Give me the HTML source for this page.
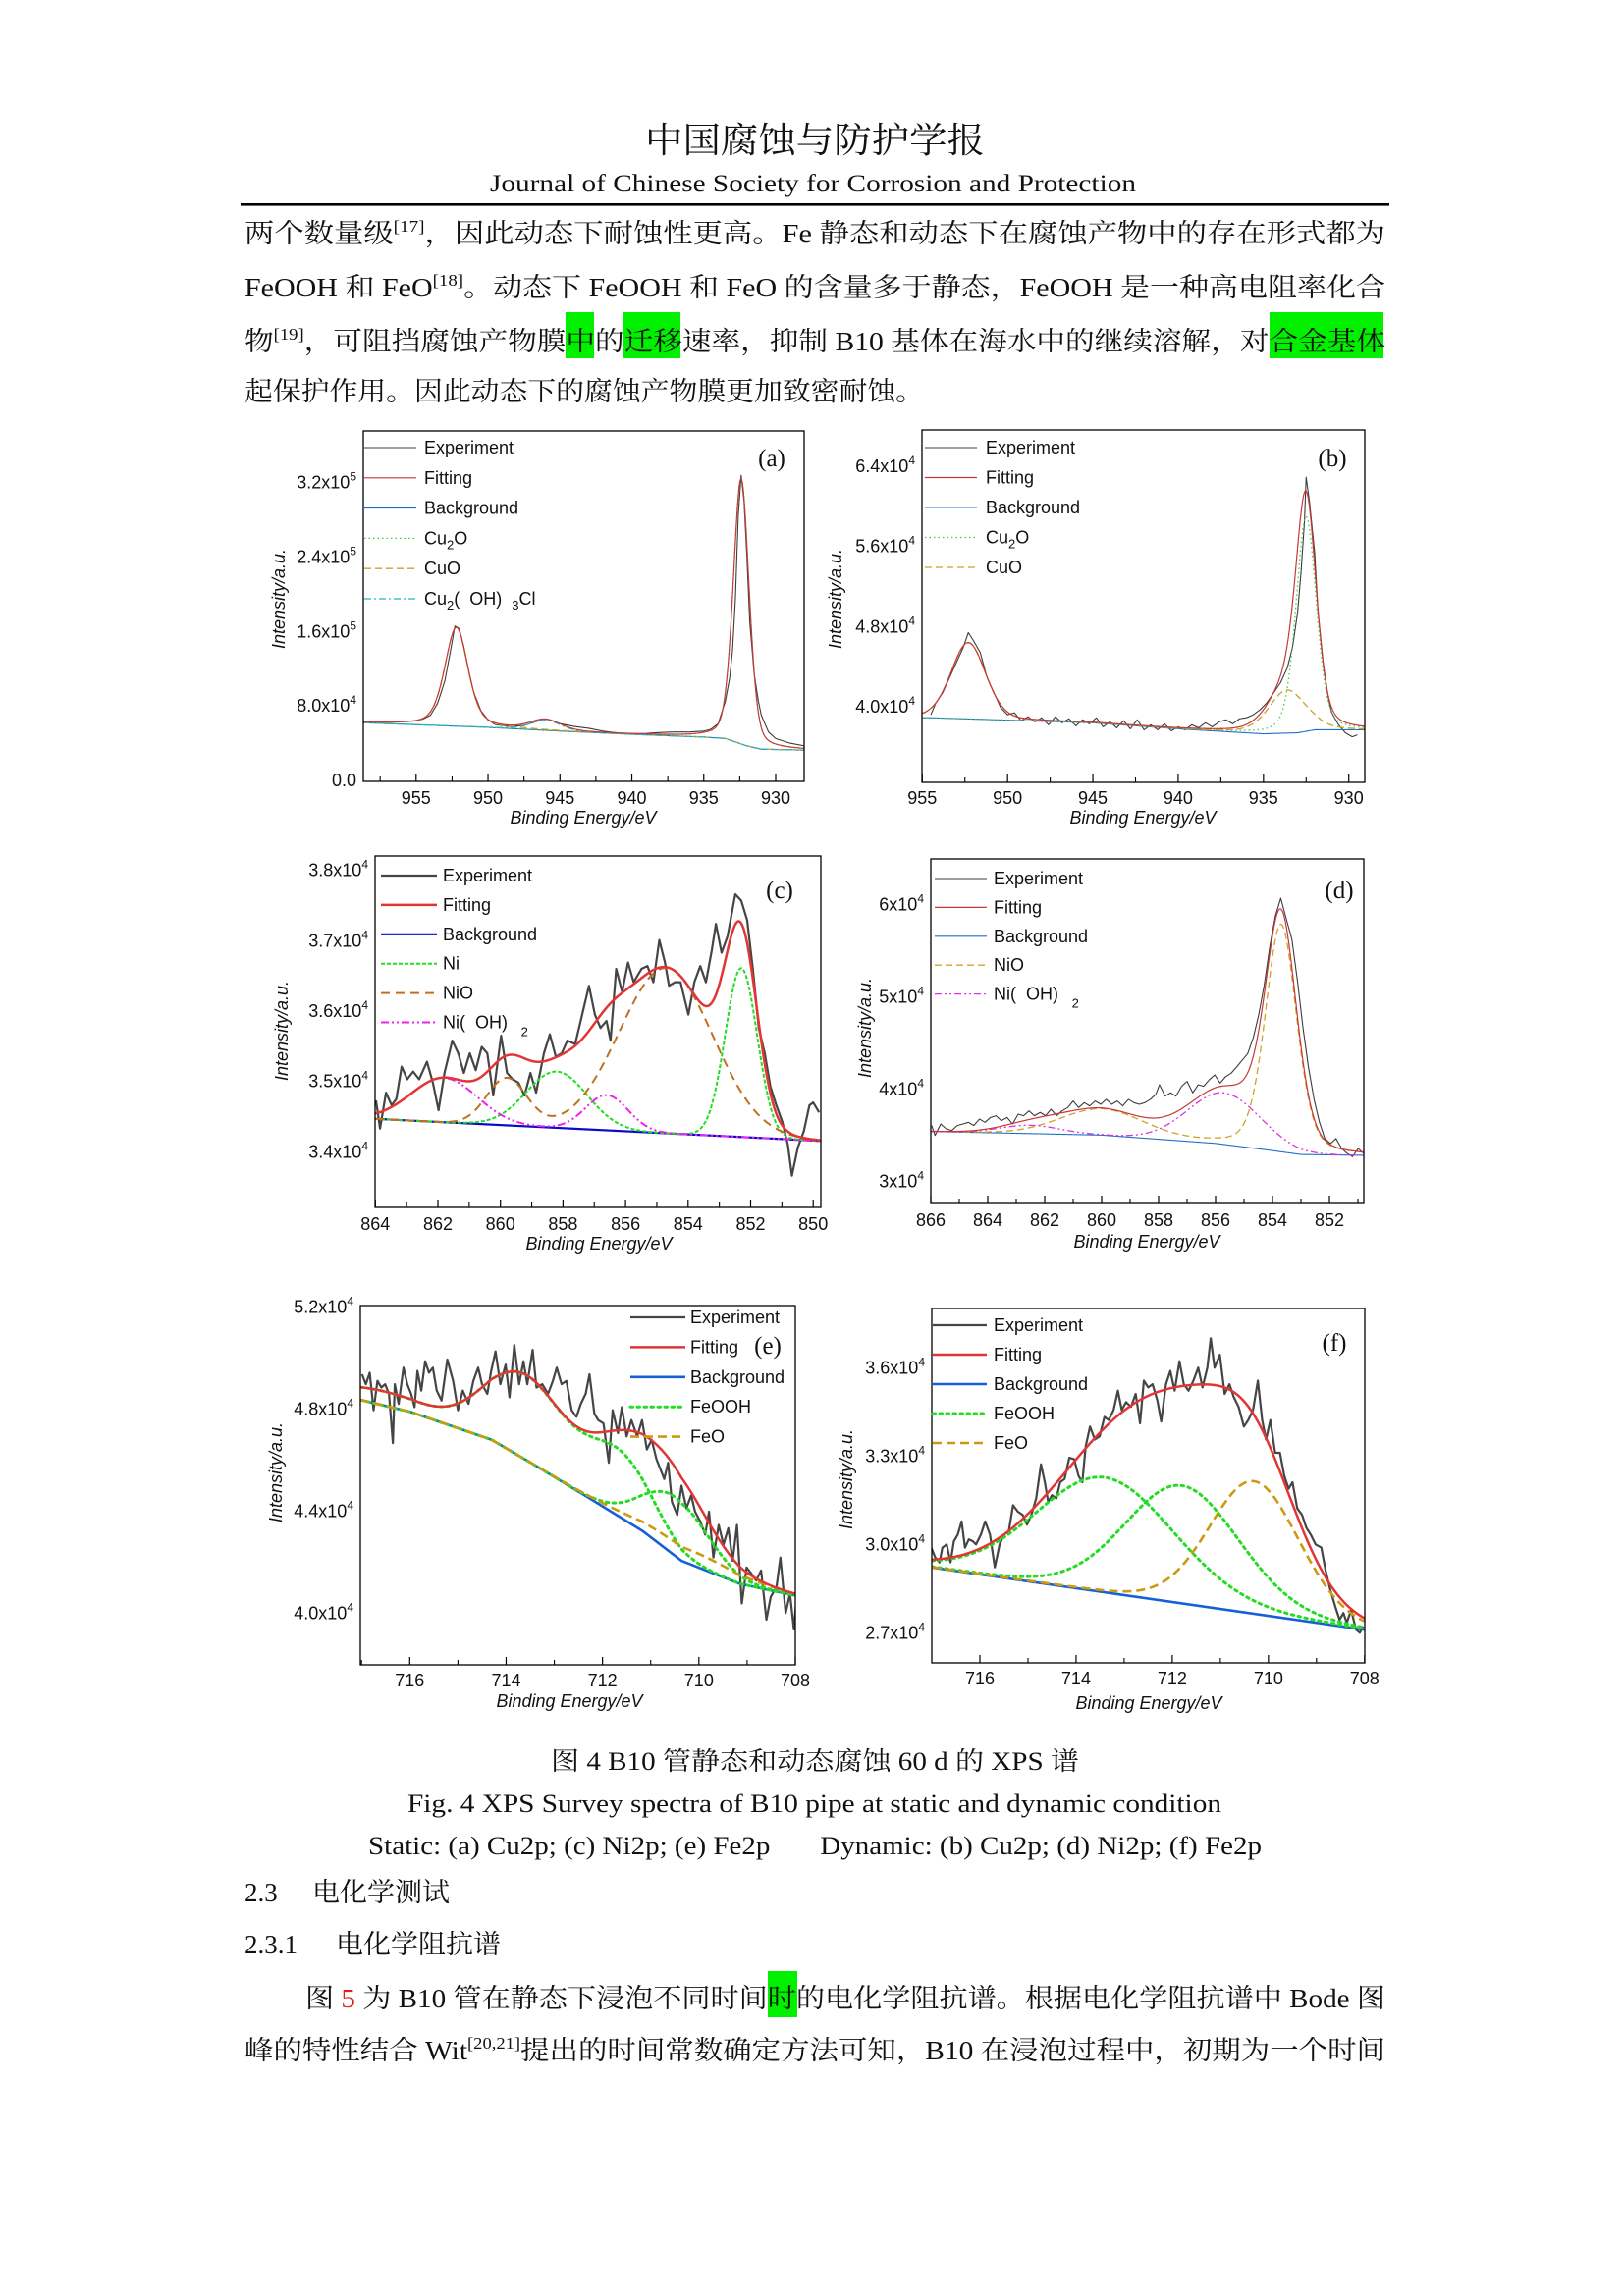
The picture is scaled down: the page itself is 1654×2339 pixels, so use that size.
<!DOCTYPE html>
<html><head><meta charset="utf-8"><title>XPS spectra of B10 pipe</title>
<style>
html,body{margin:0;padding:0;background:#fff;}
svg{display:block;}
.body{font-family:"Liberation Serif","Noto Serif CJK SC",serif;font-size:27px;fill:#111;}
.cap{font-family:"Liberation Serif","Noto Serif CJK SC",serif;font-size:26px;fill:#111;}
.ax{font-family:"Liberation Sans",Arial,sans-serif;font-size:18px;fill:#111;}
</style></head>
<body>
<svg id="page" xmlns="http://www.w3.org/2000/svg" width="1654" height="2339" viewBox="0 0 1654 2339">
<rect x="0" y="0" width="1654" height="2339" fill="#fff"/>
<g>
<text x="657" y="155" textLength="346" lengthAdjust="spacingAndGlyphs" font-family="'Liberation Serif','Noto Serif CJK SC',serif" font-size="36" fill="#111">中国腐蚀与防护学报</text>
<text x="499" y="195" textLength="658" lengthAdjust="spacingAndGlyphs" font-family="'Liberation Serif',serif" font-size="25" fill="#111">Journal of Chinese Society for Corrosion and Protection</text>
<rect x="245" y="207" width="1170" height="2.6" fill="#000"/>
</g>
<g>
<rect x="576" y="318" width="29" height="47" fill="#00f000"/>
<rect x="634" y="318" width="59" height="47" fill="#00f000"/>
<rect x="1293" y="318" width="116" height="47" fill="#00f000"/>
<rect x="782" y="2008" width="30" height="47" fill="#00f000"/>
</g>
<g>
<text class="body" x="249" y="247" textLength="1162" lengthAdjust="spacingAndGlyphs">两个数量级<tspan dy="-11" font-size="17">[17]</tspan><tspan dy="11">，因此动态下耐蚀性更高。Fe 静态和动态下在腐蚀产物中的存在形式都为</tspan></text>
<text class="body" x="249" y="302" textLength="1162" lengthAdjust="spacingAndGlyphs">FeOOH 和 FeO<tspan dy="-11" font-size="17">[18]</tspan><tspan dy="11">。动态下 FeOOH 和 FeO 的含量多于静态，FeOOH 是一种高电阻率化合</tspan></text>
<text class="body" x="249" y="357" textLength="1162" lengthAdjust="spacingAndGlyphs">物<tspan dy="-11" font-size="17">[19]</tspan><tspan dy="11">，可阻挡腐蚀产物膜中的迁移速率，抑制 B10 基体在海水中的继续溶解，对合金基体</tspan></text>
<text class="body" x="249" y="408" textLength="692" lengthAdjust="spacingAndGlyphs">起保护作用。因此动态下的腐蚀产物膜更加致密耐蚀。</text>
</g>
<g id="charts"></g>
<g>
<text class="cap" x="561" y="1803" textLength="538" lengthAdjust="spacingAndGlyphs">图 4 B10 管静态和动态腐蚀 60 d 的 XPS 谱</text>
<text class="cap" x="415" y="1846" textLength="829" lengthAdjust="spacingAndGlyphs">Fig. 4 XPS Survey spectra of B10 pipe at static and dynamic condition</text>
<text class="cap" x="375" y="1889" textLength="910" lengthAdjust="spacingAndGlyphs">Static: (a) Cu2p; (c) Ni2p; (e) Fe2p&#160;&#160;&#160;&#160;&#160;&#160;&#160;Dynamic: (b) Cu2p; (d) Ni2p; (f) Fe2p</text>
</g>
<g>
<text class="body" x="249" y="1937">2.3</text>
<text class="body" x="318" y="1937" textLength="140" lengthAdjust="spacingAndGlyphs">电化学测试</text>
<text class="body" x="249" y="1990">2.3.1</text>
<text class="body" x="342" y="1990" textLength="168" lengthAdjust="spacingAndGlyphs">电化学阻抗谱</text>
<text class="body" x="311" y="2045" textLength="1100" lengthAdjust="spacingAndGlyphs">图 <tspan fill="#e02020">5</tspan> 为 B10 管在静态下浸泡不同时间时的电化学阻抗谱。根据电化学阻抗谱中 Bode 图</text>
<text class="body" x="249" y="2098" textLength="1162" lengthAdjust="spacingAndGlyphs">峰的特性结合 Wit<tspan dy="-11" font-size="17">[20,21]</tspan><tspan dy="11">提出的时间常数确定方法可知，B10 在浸泡过程中，初期为一个时间</tspan></text>
</g>
</svg>
<script>
// ===== Panel (a) Cu2p static (intensity in 1e3 counts) =====
const aExpEnergy=[958.7,957,956,955,954.5,954,953.5,953,952.6,952.3,952,951.7,951.3,951,950.5,950,949.5,948.5,947.5,946.5,946,945.5,945,944,943,942,941,940,939,938,937,936,935,934.5,934,933.5,933.2,933,932.8,932.6,932.4,932.2,932,931.8,931.5,931.2,931,930.5,930,929,928];
const aExpIntensity=[62,62.5,63,64,66,70,83,107,140,166,163,145,115,95,75,65,60,58,59,64,66,64,61,58,56,53,51,50,50.5,51.5,52,52,53,55,61,85,110,140,195,285,328,300,240,170,115,85,70,52,45,40,37];
const aBgEnergy=[958.7,950,945,940,935,933.5,932,931,928];
const aBgIntensity=[62,57,53,49.5,46.5,45,37,33.5,32.5];
const aPeakCenter=[932.4,952.2,946.0];
const aPeakHeight=[285,106,11];
const aPeakFwhm=[1.3,1.9,2.5];
const aPeakMix=[0.3,0.4,0.2];
const aPeakCurve=[0,1,2];
const aXTicks=[955,950,945,940,935,930];
const aYTicks=[0,80,160,240,320];
const aYTickText=["0.0","8.0x10","1.6x10","2.4x10","3.2x10"];
const aYTickExp=["","4","5","5","5"];

// ===== Panel (b) Cu2p dynamic =====
const bExpEnergy=[954.5,954.2,953.8,953.4,953,952.6,952.3,952,951.6,951.2,950.8,950.4,950,949.6,949.2,948.8,948.4,948,947.6,947.2,946.8,946.4,946,945.6,945.2,944.8,944.4,944,943.6,943.2,942.8,942.4,942,941.6,941.2,940.8,940.4,940,939.6,939.2,938.8,938.4,938,937.6,937.2,936.8,936.4,936,935.6,935.2,934.8,934.4,934,933.6,933.3,933,932.8,932.6,932.5,932.3,932,931.8,931.5,931.2,931,930.6,930.2,929.8,929.5];
const bExpIntensity=[39.2,40.4,41.4,42.9,44.4,45.9,47.4,46.6,45.4,42.9,41.4,39.9,39.2,39.4,38.6,39.0,38.5,38.9,38.2,39.0,38.4,38.8,38.1,38.7,38.3,38.9,38.0,38.5,37.9,38.6,37.8,38.7,37.7,38.2,37.7,38.3,37.6,38.0,37.7,38.2,37.9,38.4,38.0,38.5,38.7,38.3,38.8,38.9,39.2,39.7,40.4,41.4,42.4,43.9,45.9,49.4,53.4,58.4,62.9,60.4,55.4,49.4,44.4,40.9,39.4,38.2,37.4,37.0,37.2];
const bBgEnergy=[954.5,945,940,935,933,932,929.5];
const bBgIntensity=[38.9,38.4,37.8,37.3,37.4,37.7,37.7];
const bPeakCenter=[932.5,933.6,952.3];
const bPeakHeight=[21.4,4.3,7.6];
const bPeakFwhm=[1.4,2.6,2.4];
const bPeakMix=[0.3,0.3,0.2];
const bPeakCurve=[0,1,1];
const bXTicks=[955,950,945,940,935,930];
const bYTicks=[40,48,56,64];
const bYTickText=["4.0x10","4.8x10","5.6x10","6.4x10"];
const bYTickExp=["4","4","4","4"];

// ===== Panel (c) Ni2p static =====
const cExpEnergy=[863.98,863.85,863.66,863.48,863.33,863.16,862.98,862.79,862.60,862.35,
862.16,861.98,861.79,861.54,861.35,861.17,860.98,860.79,860.60,860.42,
860.23,859.98,859.79,859.61,859.42,859.23,859.04,858.86,858.61,858.42,
858.23,858.04,857.86,857.61,857.36,857.17,856.98,856.80,856.61,856.48,
856.30,856.11,855.92,855.74,855.49,855.30,855.11,854.92,854.74,854.61,
854.42,854.24,853.99,853.80,853.61,853.43,853.24,853.11,852.93,852.74,
852.49,852.30,852.11,851.93,851.74,851.55,851.37,851.18,850.99,850.81,
850.68,850.49,850.30,850.12,850.00,849.81];
const cExpIntensity=[34.73,34.33,34.84,34.66,34.75,35.21,35.03,35.14,35.03,35.28,
34.98,34.59,35.12,35.58,35.40,35.12,35.40,35.16,35.49,35.40,
34.80,35.65,35.12,35.03,34.98,34.80,35.12,34.84,35.40,35.67,
35.35,35.40,35.58,35.53,36.00,36.36,35.95,35.76,35.86,35.58,
36.60,36.27,36.69,36.41,36.60,36.64,36.41,37.01,36.69,36.36,
36.41,36.41,35.95,36.41,36.64,36.41,36.87,37.24,36.83,37.06,
37.66,37.57,37.29,36.60,35.76,35.40,34.93,34.66,34.43,34.10,
33.66,34.06,34.29,34.66,34.70,34.56];
const cBgEnergy=[864.1,849.6];
const cBgIntensity=[34.47,34.15];
const cPeakCenter=[858.2,852.3,854.7,859.8,861.8,856.6];
const cPeakHeight=[0.8,2.4,2.35,0.67,0.63,0.5];
const cPeakFwhm=[2.3,1.2,3.5,1.5,2.5,1.6];
const cPeakMix=[0,0,0,0,0,0];
const cPeakCurve=[0,0,1,1,2,2];
const cXTicks=[864,862,860,858,856,854,852,850];
const cYTicks=[34,35,36,37,38];
const cYTickText=["3.4x10","3.5x10","3.6x10","3.7x10","3.8x10"];
const cYTickExp=["4","4","4","4","4"];

// ===== Panel (d) Ni2p dynamic =====
const dExpEnergy=[865.97,865.85,865.65,865.46,865.26,865.07,864.87,864.68,864.49,864.29,
864.10,863.90,863.71,863.52,863.32,863.13,862.93,862.74,862.55,862.36,
862.16,861.97,861.78,861.58,861.39,861.19,861.00,860.81,860.61,860.42,
860.23,860.03,859.84,859.65,859.45,859.26,859.06,858.87,858.68,858.48,
858.29,858.10,857.97,857.77,857.58,857.39,857.19,857.00,856.80,856.61,
856.42,856.22,856.03,855.84,855.64,855.45,855.25,855.06,854.87,854.67,
854.48,854.29,854.09,853.90,853.71,853.51,853.32,853.12,852.93,852.74,
852.54,852.35,852.16,851.96,851.77,851.57,851.38,851.19,850.99,850.80];
const dExpIntensity=[36.04,34.97,36.21,35.68,35.50,36.04,36.21,36.39,36.04,36.75,
36.39,36.92,37.10,36.57,36.92,36.21,37.28,37.10,37.63,37.10,
37.46,37.10,37.81,37.10,37.63,37.99,38.70,37.99,38.52,38.17,
38.70,38.34,38.88,38.34,38.70,38.17,38.88,38.52,38.34,38.52,
38.88,39.41,40.47,39.23,39.59,39.23,40.30,40.83,39.59,40.47,
40.30,41.01,41.54,40.65,41.36,41.72,42.43,43.14,43.85,45.62,
48.11,51.30,55.56,58.76,60.71,58.40,56.27,51.66,46.69,42.43,
38.88,36.39,34.62,34.08,34.62,33.55,33.02,32.66,33.55,33.02];
const dBgEnergy=[866.1,860,856,854.2,853,850.7];
const dBgIntensity=[35.4,35.0,34.1,33.4,32.9,32.8];
const dPeakCenter=[853.7,860.0,855.7,862.5];
const dPeakHeight=[24.7,2.8,5.6,0.9];
const dPeakFwhm=[1.3,3.4,3.0,2.5];
const dPeakMix=[0.3,0,0,0];
const dPeakCurve=[0,0,1,1];
const dXTicks=[866,864,862,860,858,856,854,852];
const dYTicks=[30,40,50,60];
const dYTickText=["3x10","4x10","5x10","6x10"];
const dYTickExp=["4","4","4","4"];

// ===== Panel (e) Fe2p static =====
const eExpEnergy=[716.99,716.91,716.83,716.75,716.67,716.59,716.51,716.43,716.35,716.31,
716.23,716.13,716.05,715.97,715.90,715.84,715.76,715.68,715.60,715.52,
715.44,715.34,715.22,715.10,715.00,714.90,714.78,714.68,714.58,714.50,
714.39,714.31,714.22,714.12,714.01,713.93,713.83,713.73,713.64,713.56,
713.45,713.37,713.25,713.13,713.03,712.95,712.85,712.75,712.64,712.54,
712.45,712.35,712.27,712.17,712.09,711.98,711.87,711.79,711.68,711.60,
711.50,711.40,711.28,711.18,711.08,710.98,710.88,710.80,710.72,710.64,
710.56,710.45,710.36,710.26,710.16,710.08,709.97,709.87,709.79,709.70,
709.59,709.49,709.39,709.30,709.21,709.11,709.01,708.91,708.81,708.71,
708.60,708.51,708.39,708.31,708.20,708.11,708.03,707.99];
const eExpIntensity=[49.37,48.98,49.43,47.96,49.11,48.85,48.98,48.60,46.67,48.98,
48.21,49.63,48.98,48.60,48.08,49.50,48.73,49.88,49.43,49.63,
48.73,48.34,49.95,49.11,47.96,48.73,48.21,49.11,49.63,48.98,
48.60,49.50,50.27,48.98,49.75,48.47,50.52,48.98,49.88,48.98,
50.33,48.85,48.98,48.60,49.11,49.63,48.98,49.11,47.96,47.70,
48.21,48.60,49.37,47.83,47.57,47.44,45.90,47.96,47.06,48.08,
46.93,47.57,46.93,47.57,46.42,46.80,46.03,45.65,45.26,45.90,
44.36,43.85,45.00,44.11,44.62,43.98,43.59,43.08,43.98,42.18,
43.46,42.69,43.33,42.05,43.46,40.38,41.79,41.54,41.28,41.67,
39.74,40.64,41.03,42.18,40.00,40.77,39.36,40.25];
const eBgEnergy=[717.1,715.98,714.30,713.49,712.37,711.16,710.36,709.15,707.9];
const eBgIntensity=[48.4,47.89,46.80,45.90,44.62,43.21,42.05,41.15,40.65];
const ePeakCenter=[716.6,713.6,711.6,710.5,710.2];
const ePeakHeight=[0.55,3.3,2.4,2.3,0.55];
const ePeakFwhm=[2.2,2.0,1.6,1.6,2.5];
const ePeakMix=[0,0,0,0,0];
const ePeakCurve=[0,0,0,1,2];
const eXTicks=[716,714,712,710,708];
const eYTicks=[40,44,48,52];
const eYTickText=["4.0x10","4.4x10","4.8x10","5.2x10"];
const eYTickExp=["4","4","4","4"];

// ===== Panel (f) Fe2p dynamic =====
const fExpEnergy=[717.01,716.93,716.84,716.78,716.69,716.61,716.54,716.46,716.38,716.31,
716.23,716.15,716.08,715.98,715.89,715.79,715.69,715.59,715.50,715.40,
715.31,715.21,715.11,715.02,714.93,714.83,714.73,714.65,714.58,714.50,
714.41,714.33,714.24,714.14,714.04,713.95,713.87,713.80,713.71,713.61,
713.51,713.41,713.32,713.22,713.13,713.05,712.96,712.86,712.76,712.67,
712.59,712.50,712.41,712.31,712.23,712.13,712.04,711.95,711.85,711.76,
711.66,711.56,711.46,711.37,711.27,711.20,711.12,711.01,710.91,710.81,
710.72,710.62,710.51,710.42,710.32,710.22,710.13,710.05,709.96,709.86,
709.76,709.67,709.58,709.50,709.40,709.30,709.21,709.12,709.02,708.90,
708.81,708.71,708.61,708.52,708.44,708.37,708.28,708.18,708.10,708.03];
const fExpIntensity=[29.89,29.56,29.39,29.89,30.0,29.39,30.11,30.33,30.78,29.89,
30.17,30.11,30.0,30.33,30.78,30.33,29.22,30.0,30.33,30.44,
31.33,31.11,31.0,30.67,31.0,31.56,32.72,32.11,31.44,31.67,
31.56,32.11,32.22,32.94,32.89,32.33,32.11,33.33,34.0,33.56,
33.67,34.33,34.22,34.56,35.22,34.56,34.83,34.67,35.11,34.11,
35.56,35.33,35.44,34.89,34.17,35.44,35.89,35.22,36.22,35.44,
35.22,35.56,36.0,35.33,36.0,37.0,36.0,36.44,35.11,35.44,
35.0,34.67,34.0,34.22,34.56,35.56,34.22,33.56,34.22,33.11,
33.11,32.33,31.89,32.11,31.22,31.0,30.56,30.33,30.0,29.89,
29.11,28.44,27.89,27.44,27.67,27.33,27.78,27.11,27.0,27.22];
const fBgEnergy=[717.1,707.9];
const fBgIntensity=[29.24,27.08];
const fPeakCenter=[713.4,711.8,710.3];
const fPeakHeight=[3.9,4.0,4.5];
const fPeakFwhm=[3.4,2.8,2.2];
const fPeakMix=[0.1,0.1,0.1];
const fPeakCurve=[0,1,2];
const fXTicks=[716,714,712,710,708];
const fYTicks=[27,30,33,36];
const fYTickText=["2.7x10","3.0x10","3.3x10","3.6x10"];
const fYTickExp=["4","4","4","4"];

// ===== styles (presentation only) =====
const TH={exp:['#3c3c3c',1.1,''],fit:['#c83838',1.2,''],bg:['#1f6fc8',1.1,''],
 cu2o:['#44cc44',1.3,'1.5,3'],cuo:['#c9a227',1.3,'7,4'],cl:['#22b5c5',1.3,'7,3,2,3'],
 nio:['#d4a02a',1.3,'7,4'],nioh:['#dd33dd',1.3,'7,3,2,3,2,3']};
const TK={exp:['#454545',2.2,''],fit:['#e23535',2.5,''],bg:['#0a0acc',2.2,''],
 ni:['#22dd22',2,'4,2'],nio:['#c07020',2,'9,6'],nioh:['#ee22ee',2,'8,3,2,3,2,3'],
 feooh:['#22dd22',3,'2.5,4.5'],feo:['#cc9911',2.6,'9,5'],bgf:['#1560d8',2.6,'']};

const NS='http://www.w3.org/2000/svg';
const root=document.getElementById('charts');
function mk(tag,attrs,parent){const e=document.createElementNS(NS,tag);for(const k in attrs)e.setAttribute(k,attrs[k]);parent.appendChild(e);return e;}
function interp(xs,ys,x){
  for(let i=0;i<xs.length-1;i++){const a=xs[i],b=xs[i+1];
    if((x<=a&&x>=b)||(x>=a&&x<=b)){const t=(x-a)/(b-a);return ys[i]+t*(ys[i+1]-ys[i]);}}
  return Math.abs(x-xs[0])<Math.abs(x-xs[xs.length-1])?ys[0]:ys[ys.length-1];
}
function peak(e,c,h,w,m){const d=(e-c)/w;return h*((1-m)*Math.exp(-4*Math.LN2*d*d)+m/(1+4*d*d));}
function styl(p,s){p.setAttribute('stroke',s[0]);p.setAttribute('stroke-width',s[1]);p.setAttribute('fill','none');
  if(s[2])p.setAttribute('stroke-dasharray',s[2]);p.setAttribute('stroke-linejoin','round');
  if(s[0]==='#22dd22'&&s[1]>=3)p.setAttribute('stroke-linecap','round');}

function drawChart(c){
  const g=mk('g',{},root);
  
  
  const X=e=>c.xm[1]+(e-c.xm[0])*(c.xm[3]-c.xm[1])/(c.xm[2]-c.xm[0]);
  const Y=v=>c.ym[1]+(v-c.ym[0])*(c.ym[3]-c.ym[1])/(c.ym[2]-c.ym[0]);
  const Einv=px=>c.xm[0]+(px-c.xm[1])*(c.xm[2]-c.xm[0])/(c.xm[3]-c.xm[1]);
  const B=c.box;
  const cp=mk('clipPath',{id:'clip-'+c.name},g);
  mk('rect',{x:B.l,y:B.t,width:B.r-B.l,height:B.b-B.t},cp);
  const plot=mk('g',{'clip-path':'url(#clip-'+c.name+')'},g);
  
  
  const eL=Einv(B.l),eR=Einv(B.r),N=700;
  const bgAt=e=>interp(c.bgE,c.bgV,e);
  const compAt=(e,i)=>peak(e,c.pc[i],c.ph[i],c.pw[i],c.pm[i]);
  function curve(fn){let d='';for(let k=0;k<=N;k++){const e=eL+(eR-eL)*k/N;d+=(k?'L':'M')+X(e).toFixed(2)+','+Y(fn(e)).toFixed(2);}return d;}
  let d='';for(let i=0;i<c.expE.length;i++){d+=(i?'L':'M')+X(c.expE[i]).toFixed(2)+','+Y(c.expV[i]).toFixed(2);}
  const pe=mk('path',{d:d},plot);styl(pe,c.st.exp);
  
  
  const pb=mk('path',{d:curve(bgAt)},plot);styl(pb,c.st.bg);
  
  
  const ids=[...new Set(c.pcurve)];
  ids.forEach(id=>{
    const idx=c.pcurve.map((v,i)=>v===id?i:-1).filter(i=>i>=0);
    const pc=mk('path',{d:curve(e=>bgAt(e)+idx.reduce((s,i)=>s+compAt(e,i),0))},plot);
    styl(pc,c.st[c.curveStyle[id]]);
    
    
  });
  const pf=mk('path',{d:curve(e=>bgAt(e)+c.pc.reduce((s,_,i)=>s+compAt(e,i),0))},plot);styl(pf,c.st.fit);
  
  
  const fr=mk('rect',{x:B.l,y:B.t,width:B.r-B.l,height:B.b-B.t,fill:'none',stroke:'#000','stroke-width':1.3},g);
  
  
  const xt=c.xt;const step=xt[1]-xt[0];
  const minors=[];for(let i=0;i<xt.length-1;i++)minors.push((xt[i]+xt[i+1])/2);
  minors.push(xt[0]-step/2,xt[xt.length-1]+step/2);
  xt.forEach(v=>{const x=X(v);if(x<B.l-0.5||x>B.r+0.5)return;
    const t=mk('line',{x1:x,x2:x,y1:B.b,y2:B.b-8,stroke:'#000','stroke-width':1.2},g);
    
    
    const lb=mk('text',{x:x,y:c.xlabY+6,'text-anchor':'middle',class:'ax'},g);lb.textContent=String(v);
    
    });
  minors.forEach(v=>{const x=X(v);if(x<B.l+1||x>B.r-1)return;
    const t=mk('line',{x1:x,x2:x,y1:B.b,y2:B.b-5,stroke:'#000','stroke-width':1.1},g);
    
    });
  c.yt.forEach((v,i)=>{const y=Y(v);
    const lb=mk('text',{x:B.l-7,y:y+6,'text-anchor':'end',class:'ax'},g);
    
    
    const t1=mk('tspan',{},lb);t1.textContent=c.ytt[i];
    if(c.yte[i]){const t2=mk('tspan',{dy:-8,'font-size':12},lb);t2.textContent=c.yte[i];}
  });
  const xtl=mk('text',{x:c.xTitle[0],y:c.xTitle[1]+6,'text-anchor':'middle',class:'ax','font-style':'italic'},g);
  xtl.textContent='Binding Energy/eV';
  
  
  const ytl=mk('text',{x:c.yTitle[0],y:c.yTitle[1],'text-anchor':'middle',class:'ax','font-style':'italic',transform:'rotate(-90 '+c.yTitle[0]+' '+c.yTitle[1]+')'},g);
  ytl.textContent='Intensity/a.u.';
  
  
  const lg=mk('g',{},g);
  
  
  c.legend.forEach((it,i)=>{const y=c.leg.y0+i*c.leg.dy;
    const ln=mk('line',{x1:c.leg.x1,x2:c.leg.x2,y1:y,y2:y},lg);styl(ln,c.st[it[0]]);
    
    
    const tx=mk('text',{x:c.leg.tx,y:y+6,class:'ax','font-size':c.leg.fs},lg);
    tx.innerHTML=it[1];
    
    });
  const pl=mk('text',{x:c.panel[0],y:c.panel[1]+8,'text-anchor':'middle','font-family':"'Liberation Serif',serif",'font-size':25,fill:'#111'},g);
  pl.textContent=c.panelText;
  
  
}
const SUB2='<tspan dy="5" font-size="13">2</tspan><tspan dy="-5">';
const L_EXP='Experiment',L_FIT='Fitting',L_BG='Background';
const L_CU2O='Cu'+SUB2+'O</tspan>';
const L_CL='Cu'+SUB2+'(\u00a0\u00a0OH)\u00a0\u00a0</tspan><tspan dy="5" font-size="13">3</tspan><tspan dy="-5">Cl</tspan>';
const L_NIOH='Ni(\u00a0\u00a0OH)\u00a0\u00a0<tspan dy="8" font-size="13">\u00a02</tspan>';

drawChart({name:'chart-a-cu2p-static',box:{l:370,t:439,r:819,b:796},xm:[955,423.8,930,790],ym:[0,795,320,491.7],
 expE:aExpEnergy,expV:aExpIntensity,bgE:aBgEnergy,bgV:aBgIntensity,pc:aPeakCenter,ph:aPeakHeight,pw:aPeakFwhm,pm:aPeakMix,pcurve:aPeakCurve,
 curveStyle:['cu2o','cuo','cl'],st:TH,xt:aXTicks,yt:aYTicks,ytt:aYTickText,yte:aYTickExp,xlabY:813,xTitle:[594,833],yTitle:[290,610],
 legend:[['exp',L_EXP],['fit',L_FIT],['bg',L_BG],['cu2o',L_CU2O],['cuo','CuO'],['cl',L_CL]],leg:{x1:371,x2:424,tx:432,y0:456,dy:30.8,fs:18},panel:[786,467],panelText:'(a)'});
drawChart({name:'chart-b-cu2p-dynamic',box:{l:939,t:438,r:1390,b:797},xm:[955,939.3,930,1373.7],ym:[40,720,64,475],
 expE:bExpEnergy,expV:bExpIntensity,bgE:bBgEnergy,bgV:bBgIntensity,pc:bPeakCenter,ph:bPeakHeight,pw:bPeakFwhm,pm:bPeakMix,pcurve:bPeakCurve,
 curveStyle:['cu2o','cuo'],st:TH,xt:bXTicks,yt:bYTicks,ytt:bYTickText,yte:bYTickExp,xlabY:813,xTitle:[1164,833],yTitle:[857,610],
 legend:[['exp',L_EXP],['fit',L_FIT],['bg',L_BG],['cu2o',L_CU2O],['cuo','CuO']],leg:{x1:942,x2:995,tx:1004,y0:456,dy:30.5,fs:18},panel:[1357,467],panelText:'(b)'});
drawChart({name:'chart-c-ni2p-static',box:{l:382,t:872,r:836,b:1230},xm:[864,382.3,850,828.2],ym:[38,886.7,34,1173.3],
 expE:cExpEnergy,expV:cExpIntensity,bgE:cBgEnergy,bgV:cBgIntensity,pc:cPeakCenter,ph:cPeakHeight,pw:cPeakFwhm,pm:cPeakMix,pcurve:cPeakCurve,
 curveStyle:['ni','nio','nioh'],st:TK,xt:cXTicks,yt:cYTicks,ytt:cYTickText,yte:cYTickExp,xlabY:1247,xTitle:[610,1267],yTitle:[293,1050],
 legend:[['exp',L_EXP],['fit',L_FIT],['bg',L_BG],['ni','Ni'],['nio','NiO'],['nioh',L_NIOH]],leg:{x1:388,x2:445,tx:451,y0:892,dy:29.9,fs:19},panel:[794,907],panelText:'(c)'});
drawChart({name:'chart-d-ni2p-dynamic',box:{l:948,t:875,r:1389,b:1226},xm:[866,948,852,1354],ym:[60,921.7,30,1203.3],
 expE:dExpEnergy,expV:dExpIntensity,bgE:dBgEnergy,bgV:dBgIntensity,pc:dPeakCenter,ph:dPeakHeight,pw:dPeakFwhm,pm:dPeakMix,pcurve:dPeakCurve,
 curveStyle:['nio','nioh'],st:TH,xt:dXTicks,yt:dYTicks,ytt:dYTickText,yte:dYTickExp,xlabY:1243,xTitle:[1168,1265],yTitle:[887,1047],
 legend:[['exp',L_EXP],['fit',L_FIT],['bg',L_BG],['nio','NiO'],['nioh',L_NIOH]],leg:{x1:952,x2:1005,tx:1012,y0:895,dy:29.4,fs:18},panel:[1364,907],panelText:'(d)'});
drawChart({name:'chart-e-fe2p-static',box:{l:367,t:1330,r:810,b:1696},xm:[716,417.3,708,810],ym:[52,1331.7,40,1643.3],
 expE:eExpEnergy,expV:eExpIntensity,bgE:eBgEnergy,bgV:eBgIntensity,pc:ePeakCenter,ph:ePeakHeight,pw:ePeakFwhm,pm:ePeakMix,pcurve:ePeakCurve,
 curveStyle:['feooh','feooh','feo'],st:Object.assign({},TK,{bg:TK.bgf}),xt:eXTicks,yt:eYTicks,ytt:eYTickText,yte:eYTickExp,xlabY:1712,xTitle:[580,1733],yTitle:[287,1500],
 legend:[['exp',L_EXP],['fit',L_FIT],['bg',L_BG],['feooh','FeOOH'],['feo','FeO']],leg:{x1:642,x2:698,tx:703,y0:1342,dy:30.4,fs:19},panel:[782,1371],panelText:'(e)'});
drawChart({name:'chart-f-fe2p-dynamic',box:{l:949,t:1333,r:1390,b:1694},xm:[716,998,708,1389.8],ym:[36,1393.3,27,1663.3],
 expE:fExpEnergy,expV:fExpIntensity,bgE:fBgEnergy,bgV:fBgIntensity,pc:fPeakCenter,ph:fPeakHeight,pw:fPeakFwhm,pm:fPeakMix,pcurve:fPeakCurve,
 curveStyle:['feooh','feooh','feo'],st:Object.assign({},TK,{bg:TK.bgf}),xt:fXTicks,yt:fYTicks,ytt:fYTickText,yte:fYTickExp,xlabY:1710,xTitle:[1170,1735],yTitle:[868,1507],
 legend:[['exp',L_EXP],['fit',L_FIT],['bg',L_BG],['feooh','FeOOH'],['feo','FeO']],leg:{x1:950,x2:1005,tx:1012,y0:1350,dy:30,fs:18},panel:[1359,1368],panelText:'(f)'});
</script>
</body></html>
